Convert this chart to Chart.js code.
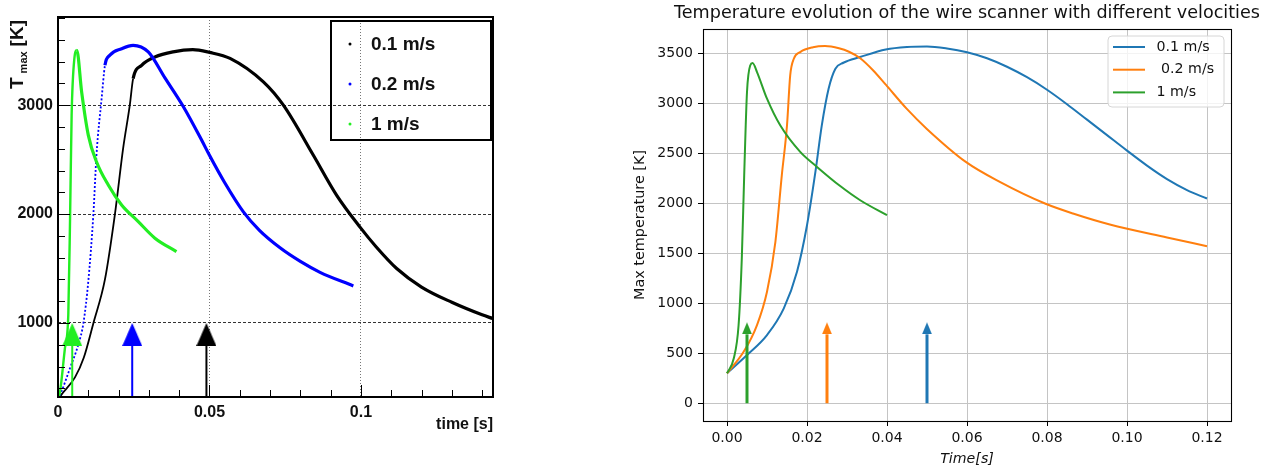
<!DOCTYPE html>
<html>
<head>
<meta charset="utf-8">
<script src="https://cdn.jsdelivr.net/npm/chart.js@4.4.0/dist/chart.umd.min.js"></script>
<style>
  html, body { margin: 0; padding: 0; background: #fff; }
  body { width: 1276px; height: 472px; position: relative; overflow: hidden; }
  #rootBox { position: absolute; left: 0; top: 0; width: 500px; height: 472px; }
  #mplBox { position: absolute; left: 620px; top: 0; width: 656px; height: 472px; }
</style>
</head>
<body>
<div id="rootBox"><canvas id="rootChart" width="500" height="472"></canvas></div>
<div id="mplBox"><canvas id="mplChart" width="656" height="472"></canvas></div>
<script>
// ---- left panel (ROOT plot) ----
const rootLabels = ['0.1 m/s', '0.2 m/s', '1 m/s'];
const rootColors = ['#000000', '#0000ff', '#22ee22'];

const rootTime01 = [0, 0.0012, 0.0056, 0.0085, 0.0117, 0.0155, 0.0188, 0.0215, 0.0237, 0.0248, 0.0276, 0.032, 0.038, 0.0445, 0.050, 0.0568, 0.0678, 0.0744, 0.0843, 0.092, 0.0997, 0.105, 0.1118, 0.120, 0.130, 0.140, 0.1436];
const rootTemp01 = [300, 344, 500, 680, 1000, 1400, 2000, 2603, 3000, 3244, 3366, 3443, 3490, 3510, 3485, 3430, 3214, 3000, 2540, 2172, 1880, 1700, 1500, 1330, 1190, 1075, 1040];

const rootTime02 = [0, 0.0012, 0.004, 0.0067, 0.0084, 0.010, 0.0117, 0.0127, 0.0144, 0.0155, 0.0171, 0.021, 0.0248, 0.0298, 0.0353, 0.0413, 0.0474, 0.050, 0.055, 0.0612, 0.0665, 0.0733, 0.080, 0.0865, 0.0975];
const rootTemp02 = [300, 374, 588, 802, 1000, 1382, 2008, 2542, 3061, 3366, 3458, 3519, 3550, 3489, 3250, 2990, 2680, 2540, 2290, 2020, 1850, 1690, 1565, 1465, 1340];

const rootTime1 = [0, 0.0007, 0.0023, 0.0034, 0.004, 0.0045, 0.0054, 0.0062, 0.0078, 0.010, 0.0127, 0.0166, 0.021, 0.0265, 0.032, 0.0391];
const rootTemp1 = [300, 374, 771, 1076, 1992, 2908, 3427, 3504, 3122, 2725, 2481, 2267, 2084, 1931, 1779, 1656];

const rootRiseEnd = [9, 9, 7];
const rootArrowTime = [0.049, 0.0245, 0.0047];
const rootArrowFrom = 320;
const rootArrowBase = 790;
const rootArrowTip = 1000;

// ---- right panel (matplotlib plot) ----
const mplTitle = 'Temperature evolution of the wire scanner with different velocities';
const mplLabels = ['0.1 m/s', ' 0.2 m/s', '1 m/s'];
const mplColors = ['#1f77b4', '#ff7f0e', '#2ca02c'];
const mplYTicks = [0, 500, 1000, 1500, 2000, 2500, 3000, 3500];
const mplXTicks = [0, 0.02, 0.04, 0.06, 0.08, 0.10, 0.12];

const mplTime01 = [0, 0.005, 0.010, 0.0142, 0.0175, 0.020, 0.0221, 0.0237, 0.0254, 0.0271, 0.0291, 0.0333, 0.0397, 0.045, 0.050, 0.055, 0.060, 0.065, 0.070, 0.075, 0.080, 0.085, 0.090, 0.095, 0.100, 0.105, 0.110, 0.115, 0.120];
const mplTemp01 = [300, 483, 683, 950, 1317, 1783, 2317, 2783, 3150, 3350, 3410, 3467, 3543, 3568, 3573, 3553, 3515, 3455, 3370, 3265, 3140, 2995, 2840, 2685, 2530, 2380, 2245, 2135, 2050];

const mplTime02 = [0, 0.0042, 0.0075, 0.010, 0.0121, 0.0137, 0.015, 0.0158, 0.0167, 0.0183, 0.0215, 0.0245, 0.028, 0.0305, 0.0333, 0.0365, 0.0397, 0.0449, 0.0499, 0.0597, 0.0682, 0.0795, 0.0865, 0.0957, 0.110, 0.120];
const mplTemp02 = [300, 517, 783, 1117, 1617, 2283, 2783, 3283, 3450, 3517, 3565, 3577, 3555, 3520, 3455, 3335, 3190, 2950, 2750, 2417, 2217, 2000, 1900, 1790, 1660, 1573];

const mplTime1 = [0, 0.0017, 0.0029, 0.0037, 0.0043, 0.005, 0.0058, 0.0064, 0.0075, 0.010, 0.0133, 0.0183, 0.0225, 0.0283, 0.0333, 0.040];
const mplTemp1 = [300, 450, 783, 1450, 2283, 3117, 3383, 3407, 3317, 3050, 2783, 2517, 2367, 2175, 2033, 1883];

const mplArrowTime = [0.05, 0.025, 0.005];
const mplArrowFrom = 0;
const mplArrowBase = 690;
const mplArrowTip = 810;

const ROOT_FONT = '"Liberation Sans", Arial, sans-serif';
const MPL_FONT = '"DejaVu Sans", sans-serif';

function headImage(color, w, h) {
    // triangle whose tip sits at the image centre, so the data point is the tip
    const c = document.createElement('canvas');
    c.width = w;
    c.height = h * 2;
    const g = c.getContext('2d');
    g.fillStyle = color;
    g.beginPath();
    g.moveTo(w / 2, h);
    g.lineTo(w, h * 2);
    g.lineTo(0, h * 2);
    g.closePath();
    g.fill();
    return c;
}

function points(xs, ys) {
    return xs.map((x, i) => ({ x: x, y: ys[i] }));
}

function arrowSet(color, t, from, base, tip, width, head) {
    return {
        isArrow: true,
        order: 0,
        data: [{ x: t, y: from }, { x: t, y: base }, { x: t, y: tip }],
        borderColor: color,
        borderWidth: width,
        borderCapStyle: 'butt',
        pointRadius: ctx => ctx.dataIndex === 2 ? 4 : 0,
        pointStyle: ctx => ctx.dataIndex === 2 ? head : 'circle',
        segment: {
            borderColor: ctx => ctx.p0DataIndex === 1 ? 'rgba(0,0,0,0)' : undefined
        }
    };
}

function rootLine(i, xs, ys, riseWidth, riseDash) {
    return {
        label: rootLabels[i],
        order: 3 - i,
        data: points(xs, ys),
        borderColor: rootColors[i],
        backgroundColor: rootColors[i],
        borderWidth: 3.2,
        pointRadius: 0,
        cubicInterpolationMode: 'monotone',
        segment: {
            borderWidth: ctx => ctx.p0DataIndex < rootRiseEnd[i] ? riseWidth : undefined,
            borderDash: ctx => ctx.p0DataIndex < rootRiseEnd[i] ? riseDash : undefined
        }
    };
}

const rootDatasets = [
    rootLine(0, rootTime01, rootTemp01, 1.8, []),
    rootLine(1, rootTime02, rootTemp02, 1.8, [2, 2]),
    rootLine(2, rootTime1, rootTemp1, 2.4, [])
];
rootArrowTime.forEach((t, i) => {
    rootDatasets.push(arrowSet(rootColors[i], t, rootArrowFrom, rootArrowBase, rootArrowTip, 2, headImage(rootColors[i], 20, 23)));
});

function hundredths(v) {
    return Math.round(v * 100);
}

const rootDecor = {
    id: 'rootDecor',
    afterDraw(chart) {
        const ctx = chart.ctx;
        const a = chart.chartArea;
        const xs = chart.scales.x;
        const ys = chart.scales.y;
        ctx.save();
        ctx.strokeStyle = '#000';
        ctx.lineWidth = 1;
        // inward tick marks
        ys.ticks.forEach(t => {
            const p = Math.round(ys.getPixelForValue(t.value)) + 0.5;
            const len = t.value % 1000 === 0 ? 12 : 7;
            ctx.beginPath();
            ctx.moveTo(a.left, p);
            ctx.lineTo(a.left + len, p);
            ctx.stroke();
        });
        xs.ticks.forEach(t => {
            const k = hundredths(t.value);
            const p = Math.round(xs.getPixelForValue(t.value)) + 0.5;
            const len = k % 5 === 0 ? 12 : 7;
            ctx.beginPath();
            ctx.moveTo(p, a.bottom);
            ctx.lineTo(p, a.bottom - len);
            ctx.stroke();
        });
        // frame
        ctx.lineWidth = 2;
        ctx.strokeRect(a.left, a.top, a.right - a.left, a.bottom - a.top);

        // axis titles
        ctx.fillStyle = '#111';
        ctx.textBaseline = 'middle';
        ctx.textAlign = 'right';
        ctx.font = 'bold 16px ' + ROOT_FONT;
        ctx.fillText('time [s]', 493, 425);

        ctx.translate(18, 20);
        ctx.rotate(-Math.PI / 2);
        ctx.font = 'bold 19px ' + ROOT_FONT;
        const wK = ctx.measureText('[K]').width;
        ctx.fillText('[K]', 0, 0);
        ctx.font = 'bold 11px ' + ROOT_FONT;
        const wMax = ctx.measureText('max').width;
        ctx.fillText('max', -wK - 5, 6);
        ctx.font = 'bold 19px ' + ROOT_FONT;
        ctx.fillText('T', -wK - 5 - wMax - 4, 0);
        ctx.restore();

        // legend
        ctx.save();
        ctx.strokeStyle = '#000';
        ctx.lineWidth = 2;
        ctx.strokeRect(331, 21, 160, 119);
        const rows = [44, 84, 124];
        ctx.font = 'bold 19px ' + ROOT_FONT;
        ctx.textAlign = 'left';
        ctx.textBaseline = 'middle';
        rootLabels.forEach((lab, i) => {
            ctx.fillStyle = rootColors[i];
            ctx.beginPath();
            ctx.arc(350, rows[i], 1.5, 0, Math.PI * 2);
            ctx.fill();
            ctx.fillStyle = '#111';
            ctx.fillText(lab, 371, rows[i] + 1);
        });
        ctx.restore();
    }
};

new Chart(document.getElementById('rootChart'), {
    type: 'line',
    data: { datasets: rootDatasets },
    options: {
        responsive: false,
        animation: false,
        events: [],
        layout: { padding: { left: 0, right: 7, top: 17, bottom: 0 } },
        plugins: { legend: { display: false }, tooltip: { enabled: false } },
        scales: {
            x: {
                type: 'linear',
                min: 0,
                max: 0.1436,
                afterFit: s => { s.height = 75; },
                border: { display: false, dash: [1, 2] },
                grid: {
                    drawTicks: false,
                    lineWidth: 1,
                    color: ctx => {
                        if (!ctx.tick) return 'rgba(0,0,0,0)';
                        const k = hundredths(ctx.tick.value);
                        return k > 0 && k % 5 === 0 ? '#777' : 'rgba(0,0,0,0)';
                    }
                },
                ticks: {
                    stepSize: 0.01,
                    includeBounds: false,
                    autoSkip: false,
                    maxRotation: 0,
                    padding: 6,
                    color: '#111',
                    font: { family: ROOT_FONT, size: 16, weight: 'bold' },
                    callback: v => {
                        const k = hundredths(v);
                        if (k % 5 !== 0) return '';
                        return k === 0 ? '0' : String(k / 100);
                    }
                }
            },
            y: {
                type: 'linear',
                min: 320,
                max: 3810,
                afterFit: s => { s.width = 58; },
                border: { display: false, dash: [3, 2] },
                grid: {
                    drawTicks: false,
                    lineWidth: 1,
                    color: ctx => ctx.tick && ctx.tick.value % 1000 === 0 ? '#333' : 'rgba(0,0,0,0)'
                },
                ticks: {
                    stepSize: 200,
                    includeBounds: false,
                    autoSkip: false,
                    padding: 5,
                    color: '#111',
                    font: { family: ROOT_FONT, size: 16, weight: 'bold' },
                    callback: v => v % 1000 === 0 ? String(v) : ''
                }
            }
        }
    },
    plugins: [rootDecor]
});

// ---- right panel ----
function mplLine(i, xs, ys) {
    return {
        label: mplLabels[i],
        order: 3 - i,
        data: points(xs, ys),
        borderColor: mplColors[i],
        backgroundColor: mplColors[i],
        borderWidth: 2,
        pointRadius: 0,
        cubicInterpolationMode: 'monotone'
    };
}

const mplDatasets = [
    mplLine(0, mplTime01, mplTemp01),
    mplLine(1, mplTime02, mplTemp02),
    mplLine(2, mplTime1, mplTemp1)
];
mplArrowTime.forEach((t, i) => {
    mplDatasets.push(arrowSet(mplColors[i], t, mplArrowFrom, mplArrowBase, mplArrowTip, 3, headImage(mplColors[i], 10, 12)));
});

const mplDecor = {
    id: 'mplDecor',
    afterDraw(chart) {
        const ctx = chart.ctx;
        const a = chart.chartArea;
        ctx.save();
        // spines
        ctx.strokeStyle = '#000';
        ctx.lineWidth = 1.1;
        ctx.strokeRect(Math.round(a.left) + 0.5, Math.round(a.top) + 0.5, Math.round(a.right - a.left), Math.round(a.bottom - a.top));

        // title
        ctx.fillStyle = '#111';
        ctx.font = '17.6px ' + MPL_FONT;
        ctx.textAlign = 'center';
        ctx.textBaseline = 'middle';
        ctx.fillText(mplTitle, (a.left + a.right) / 2, 13);

        // legend
        const bx = 488, by = 36, bw = 116, bh = 71, r = 4;
        ctx.beginPath();
        ctx.moveTo(bx + r, by);
        ctx.arcTo(bx + bw, by, bx + bw, by + bh, r);
        ctx.arcTo(bx + bw, by + bh, bx, by + bh, r);
        ctx.arcTo(bx, by + bh, bx, by, r);
        ctx.arcTo(bx, by, bx + bw, by, r);
        ctx.closePath();
        ctx.fillStyle = 'rgba(255,255,255,0.8)';
        ctx.fill();
        ctx.strokeStyle = '#d6d6d6';
        ctx.lineWidth = 1;
        ctx.stroke();

        const rows = [47, 69.7, 92.4];
        ctx.font = '14.2px ' + MPL_FONT;
        ctx.textAlign = 'left';
        mplLabels.forEach((lab, i) => {
            ctx.strokeStyle = mplColors[i];
            ctx.lineWidth = 2;
            ctx.beginPath();
            ctx.moveTo(493, rows[i]);
            ctx.lineTo(525, rows[i]);
            ctx.stroke();
            ctx.fillStyle = '#111';
            ctx.fillText(lab, 536.5, rows[i]);
        });
        ctx.restore();
    }
};

new Chart(document.getElementById('mplChart'), {
    type: 'line',
    data: { datasets: mplDatasets },
    options: {
        responsive: false,
        animation: false,
        events: [],
        layout: { padding: { left: 0, right: 45, top: 29, bottom: 0 } },
        plugins: { legend: { display: false }, tooltip: { enabled: false } },
        scales: {
            x: {
                type: 'linear',
                min: -0.006,
                max: 0.126,
                afterFit: s => { s.height = 51; },
                afterBuildTicks: s => { s.ticks = mplXTicks.map(v => ({ value: v })); },
                border: { display: false },
                grid: { color: '#c4c4c4', lineWidth: 1, tickColor: '#000', tickLength: 5, tickWidth: 1 },
                title: {
                    display: true,
                    text: 'Time[s]',
                    color: '#111',
                    font: { family: MPL_FONT, size: 14.2, style: 'italic' },
                    padding: { top: 0, bottom: 4 }
                },
                ticks: {
                    autoSkip: false,
                    maxRotation: 0,
                    padding: 4,
                    color: '#111',
                    font: { family: MPL_FONT, size: 14 },
                    callback: v => v.toFixed(2)
                }
            },
            y: {
                type: 'linear',
                min: -178,
                max: 3748,
                afterFit: s => { s.width = 83; },
                afterBuildTicks: s => { s.ticks = mplYTicks.map(v => ({ value: v })); },
                border: { display: false },
                grid: { color: '#c4c4c4', lineWidth: 1, tickColor: '#000', tickLength: 5, tickWidth: 1 },
                title: {
                    display: true,
                    text: 'Max temperature [K]',
                    color: '#111',
                    font: { family: MPL_FONT, size: 14.4 },
                    padding: { top: 12, bottom: 0 }
                },
                ticks: {
                    autoSkip: false,
                    padding: 5,
                    color: '#111',
                    font: { family: MPL_FONT, size: 14 },
                    callback: v => String(v)
                }
            }
        }
    },
    plugins: [mplDecor]
});
</script>
</body>
</html>
